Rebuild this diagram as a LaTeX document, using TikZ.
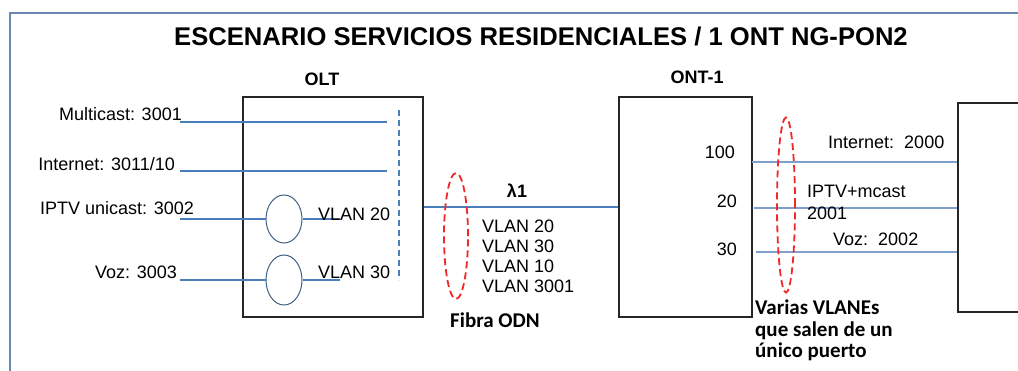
\documentclass[tikz,border=0pt]{standalone}
\usepackage{fontspec}
\setmainfont{Liberation Sans}
\newfontfamily\calibfont{Carlito}
\usetikzlibrary{positioning, shapes.geometric, calc}
\usepackage{xcolor}
\definecolor{lineblue}{HTML}{4A7EBB}
\definecolor{paleblue}{HTML}{7FA0CC}
\definecolor{framegray}{HTML}{6A88B2}
\definecolor{odnred}{HTML}{F02828}
\definecolor{muxedge}{HTML}{3E5F86}

\begin{document}
\begin{tikzpicture}[x=1pt, y=-1pt,
  txt/.style={inner sep=0pt, font=\fontsize{18}{21.5}\selectfont},
  hdr/.style={inner sep=0pt, font=\fontsize{18}{21.5}\selectfont\bfseries},
  note/.style={inner sep=0pt, font=\fontsize{21}{21.5}\selectfont\calibfont\bfseries, align=left},
  box/.style={draw=black!85, line width=1.8pt, rectangle, inner sep=0pt},
  mux/.style={draw=muxedge, line width=1pt, ellipse, inner sep=0pt, minimum width=36pt},
  link/.style={draw=lineblue, line width=1.3pt},
  port/.style={draw=paleblue, line width=2.4pt},
  odn/.style={draw=odnred, line width=1.8pt, dash pattern=on 7pt off 4pt, ellipse, inner sep=0pt}]
  \useasboundingbox (0,0) rectangle (1018,370);
  \clip (0,0) rectangle (1018,370);

  % outer frame
  \draw[draw=framegray, line width=2.5pt] (10,375) |- (1025,13);

  \node[anchor=base, inner sep=0pt, font=\fontsize{25.6}{28}\selectfont\bfseries] (title) at (541,45) {ESCENARIO SERVICIOS RESIDENCIALES / 1 ONT NG-PON2};

  % equipment
  \node[box, minimum width=180pt, minimum height=220pt] (olt) at (333,207) {};
  \node[box, minimum width=133pt, minimum height=220pt] (ont) at (685.5,207) {};
  \node[box, minimum width=100pt, minimum height=209pt, anchor=north west] (cpe) at (957,102) {};
  \node[hdr, anchor=base] (oltname) at (322,85) {OLT};
  \node[hdr, anchor=base] (ontname) at (697,83) {ONT-1};

  % services into the OLT
  \node[txt, anchor=base east] (mcastlbl) at (182,120) {Multicast: 3001};
  \node[txt, anchor=base east] (inetlbl) at (175,170) {Internet: 3011/10};
  \node[txt, anchor=base east] (iptvlbl) at (194,214) {IPTV unicast: 3002};
  \node[txt, anchor=base east] (vozlbl) at (177,278) {Voz: 3003};

  \coordinate (bustop) at (399,110);
  \coordinate (busbot) at (399,280);
  \coordinate (mcastin) at (180,122);
  \coordinate (inetin) at (180,171);
  \coordinate (iptvin) at (180,219);
  \coordinate (vozin) at (180,280);
  \coordinate (iptvout) at (340,219);
  \coordinate (vozout) at (340,280);
  \node[mux, minimum height=48pt] (iptvmux) at (284,219) {};
  \node[mux, minimum height=50pt] (vozmux) at (284,280) {};

  \draw[link, shorten >=12pt] (mcastin) -- (mcastin -| bustop);
  \draw[link, shorten >=12pt] (inetin) -- (inetin -| bustop);
  \draw[link] (iptvin) -- (iptvmux);
  \draw[link] (iptvmux) -- (iptvout);
  \draw[link] (vozin) -- (vozmux);
  \draw[link] (vozmux) -- (vozout);
  \draw[link, dash pattern=on 6pt off 4pt] (bustop) -- (busbot);

  \node[txt, anchor=base west] (vlan20) at (318,220) {VLAN 20};
  \node[txt, anchor=base west] (vlan30) at (318,278) {VLAN 30};

  % fibre
  \draw[link] (olt.east) -- (ont.west);
  \node[hdr, anchor=base] (lambda) at (517,197) {λ1};
  \foreach \v [count=\i] in {20,30,10,3001}
    \node[txt, anchor=base west] (vlanl\i) at (482,211.7+20.3*\i) {VLAN \v};
  \node[odn, minimum width=24pt, minimum height=126pt] (odnring) at (456,236) {};
  \node[note, anchor=base west] (odnlbl) at (450,327) {Fibra ODN};

  % ONT ports
  \node[txt, anchor=base east] (p100) at (735,158) {100};
  \node[txt, anchor=base east] (p20) at (737,207) {20};
  \node[txt, anchor=base east] (p30) at (737,255) {30};
  \coordinate (q100) at (752,162);
  \coordinate (q20) at (754,208);
  \coordinate (q30) at (756,252);
  \draw[port] (q100) -- (q100 -| cpe.west);
  \draw[port] (q20) -- (q20 -| cpe.west);
  \draw[port] (q30) -- (q30 -| cpe.west);

  \node[txt, anchor=base west] (inetsvc) at (828,148) {Internet:\ \ 2000};
  \node[txt, anchor=north west, align=left] (iptvsvc) at (807,185.1) {IPTV+mcast\\2001};
  \node[txt, anchor=base west] (vozsvc) at (833,245) {Voz:\ \ 2002};

  \node[odn, minimum width=18pt, minimum height=175pt] (portring) at (786,205) {};
  \node[note, anchor=north west] (portnote) at (755,300) {Varias VLANEs\\que salen de un\\único puerto};
\end{tikzpicture}
\end{document}
